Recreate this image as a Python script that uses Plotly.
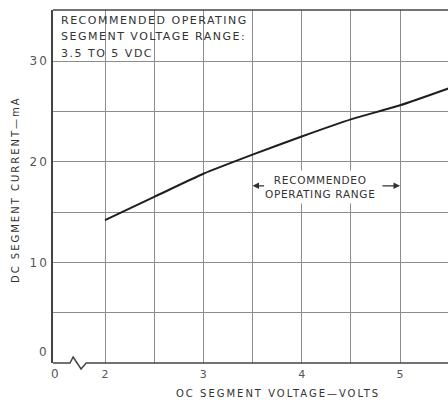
import plotly.graph_objects as go

# Segment current versus DC segment voltage
voltage = [2.0, 2.5, 3.0, 3.5, 4.0, 4.5, 5.0, 5.5]
current_ma = [14.2, 16.5, 18.8, 20.7, 22.5, 24.2, 25.6, 27.3]

# Axis ticks (grid every 0.5 V and 5 mA)
x_tickvals = [2.0, 2.5, 3.0, 3.5, 4.0, 4.5, 5.0, 5.5]
x_ticktext = ["2", "", "3", "", "4", "", "5", ""]
y_tickvals = [5, 10, 15, 20, 25, 30]
y_ticktext = ["", "10", "", "20", "", "30"]

# Corner note, one entry per line
note_lines = ["RECOMMENDED OPERATING", "SEGMENT VOLTAGE RANGE:", "3.5 TO 5 VDC"]

# Recommended operating range (V)
range_lo, range_hi = 3.5, 5.0

FONT = "DejaVu Sans"
INK = "#333333"
TICK = "#555555"
GRID = "#8c8c8c"


def spaced(text, px):
    return f'<span style="letter-spacing:{px}px">{text}</span>'


fig = go.Figure()
fig.add_trace(go.Scatter(
    x=voltage, y=current_ma, mode="lines",
    line=dict(color="#1e1e1e", width=2, shape="spline", smoothing=0.6),
    hoverinfo="skip", showlegend=False,
))

fig.update_layout(
    width=448, height=400,
    margin=dict(l=53, r=0, t=10, b=37),
    paper_bgcolor="white", plot_bgcolor="white",
    font=dict(family=FONT, color=INK),
    xaxis=dict(
        range=[1.471, 5.488], tickvals=x_tickvals, ticktext=x_ticktext,
        showgrid=True, gridcolor=GRID, gridwidth=1,
        showline=False, zeroline=False, ticks="", ticklabelstandoff=3,
        tickfont=dict(size=11, color=TICK),
    ),
    yaxis=dict(
        range=[0, 35.07], tickvals=y_tickvals,
        ticktext=[spaced(t, 2) if t else "" for t in y_ticktext],
        showgrid=True, gridcolor=GRID, gridwidth=1,
        showline=True, linecolor="#444444", linewidth=1.5, mirror=False,
        zeroline=False, ticks="",
        tickfont=dict(size=12, color=TICK),
    ),
)

# White panel behind the note in the upper-left corner
fig.add_shape(type="rect", xref="paper", yref="paper",
              x0=0, x1=0.6, y0=0.86, y1=1,
              fillcolor="white", line_width=0, layer="between")

# Top frame line
fig.add_shape(type="line", xref="paper", yref="paper",
              x0=0, x1=1, y0=1, y1=1,
              line=dict(color="#444444", width=1.5))

# Bottom axis with a break symbol near the origin
fig.add_shape(type="path", xref="paper", yref="paper",
              path="M 0,0 L 0.043,0 L 0.051,0.017 L 0.071,-0.017 L 0.084,0 L 1,0",
              line=dict(color="#444444", width=1.5))

# Origin labels
fig.add_annotation(text="0", xref="paper", yref="paper", x=0, y=0,
                   xanchor="center", yanchor="middle",
                   xshift=2, yshift=-11, showarrow=False,
                   font=dict(size=12, color=TICK))
fig.add_annotation(text="0", xref="paper", yref="paper", x=0, y=0,
                   xanchor="right", yanchor="middle",
                   xshift=-4, yshift=11, showarrow=False,
                   font=dict(size=12, color=TICK))

# Note in the corner
for i, line in enumerate(note_lines):
    fig.add_annotation(
        text=spaced(line, 1.5),
        xref="paper", yref="paper", x=0.015, y=1, yshift=-10 - 16.5 * i,
        xanchor="left", yanchor="middle", showarrow=False,
        font=dict(size=11, color=INK),
    )

# Recommended operating range marker
fig.add_annotation(
    text=spaced("RECOMMENDEO<br>OPERATING RANGE", 0.7),
    x=(range_lo + range_hi) / 2 - 0.06, y=17.5, showarrow=False,
    bgcolor="white", borderpad=3,
    font=dict(size=10.5, color=INK),
)
for xv, off in ((range_lo, 13), (range_hi, -19)):
    fig.add_annotation(
        text="", x=xv, y=17.6, ax=off, ay=0, showarrow=True,
        arrowhead=2, arrowsize=1, arrowwidth=1.3, arrowcolor=INK, standoff=0,
    )

# Axis titles
fig.add_annotation(
    text=spaced("OC SEGMENT VOLTAGE—VOLTS", 2),
    xref="paper", yref="paper", x=(278 - 53) / 395, y=0,
    xanchor="center", yanchor="middle",
    yshift=-30, showarrow=False, font=dict(size=10, color=INK),
)
fig.add_annotation(
    text=spaced("DC SEGMENT CURRENT—mA", 2),
    xref="paper", yref="paper", x=0, y=0.49,
    xanchor="center", yanchor="middle", xshift=-38,
    textangle=-90, showarrow=False, font=dict(size=10, color=INK),
)

fig.write_html("out.html")
